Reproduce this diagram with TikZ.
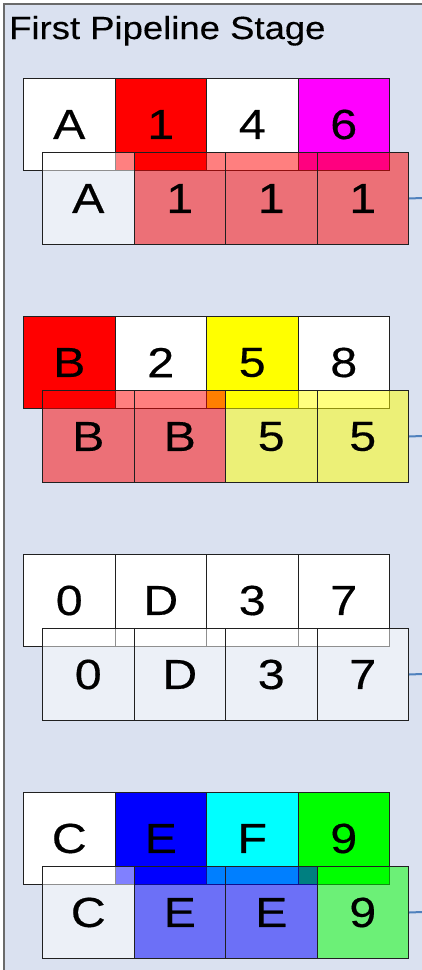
\documentclass[tikz,border=0pt]{standalone}
\usepackage{fontspec}
\setmainfont{Liberation Sans}
\newfontfamily\cellfont[FakeStretch=1.15,FakeBold=0.4]{Liberation Sans}
\newfontfamily\titlefont[FakeStretch=1.14,FakeBold=0.3]{Liberation Sans}
\definecolor{panelbg}{HTML}{DAE1F0}
\definecolor{panelline}{HTML}{6A6A6A}
\definecolor{linkblue}{HTML}{4F81BD}
\definecolor{cellline}{HTML}{202020}
\definecolor{cwhite}{HTML}{FFFFFF}
\definecolor{cred}{HTML}{FF0000}
\definecolor{cmag}{HTML}{FF00FF}
\definecolor{cyel}{HTML}{FFFF00}
\definecolor{cblue}{HTML}{0000FF}
\definecolor{ccyan}{HTML}{00FFFF}
\definecolor{cgreen}{HTML}{00FF00}
\begin{document}
\begin{tikzpicture}[x=1pt,y=-1pt,
  cell/.style={draw=cellline, line width=1pt, minimum width=91.5pt, minimum height=92pt,
    inner sep=0pt, anchor=north west, font=\cellfont\fontsize{42}{42}\selectfont},
  over/.style={cell, fill opacity=0.5, text opacity=1, draw opacity=1},
  link/.style={draw=linkblue, line width=2pt}]
\fill[white] (0,0) rectangle (422,970);
\useasboundingbox (0,0) rectangle (422,970);
\draw[panelline, line width=2pt, fill=panelbg] (4,4) rectangle (440,990);
\node[anchor=base west, inner sep=0pt, font=\titlefont\fontsize{32}{32}\selectfont] (title) at (9,39) {First Pipeline Stage};
% row 1
\foreach \t/\c [count=\i] in {A/cwhite,1/cred,4/cwhite,6/cmag}
  \node[cell, fill=\c] (r1t\i) at ({23+91.5*(\i-1)},78) {\t};
\foreach \t/\c [count=\i] in {A/cwhite,1/cred,1/cred,1/cred}
  \node[over, fill=\c] (r1b\i) at ({42+91.5*(\i-1)},152) {\t};
\coordinate (e1) at (422,198);
\draw[link] (r1b4.east) -- (e1);
% row 2
\foreach \t/\c [count=\i] in {B/cred,2/cwhite,5/cyel,8/cwhite}
  \node[cell, fill=\c] (r2t\i) at ({23+91.5*(\i-1)},316) {\t};
\foreach \t/\c [count=\i] in {B/cred,B/cred,5/cyel,5/cyel}
  \node[over, fill=\c] (r2b\i) at ({42+91.5*(\i-1)},390) {\t};
\coordinate (e2) at (422,436);
\draw[link] (r2b4.east) -- (e2);
% row 3
\foreach \t/\c [count=\i] in {0/cwhite,D/cwhite,3/cwhite,7/cwhite}
  \node[cell, fill=\c] (r3t\i) at ({23+91.5*(\i-1)},554) {\t};
\foreach \t/\c [count=\i] in {0/cwhite,D/cwhite,3/cwhite,7/cwhite}
  \node[over, fill=\c] (r3b\i) at ({42+91.5*(\i-1)},628) {\t};
\coordinate (e3) at (422,674);
\draw[link] (r3b4.east) -- (e3);
% row 4
\foreach \t/\c [count=\i] in {C/cwhite,E/cblue,F/ccyan,9/cgreen}
  \node[cell, fill=\c] (r4t\i) at ({23+91.5*(\i-1)},792) {\t};
\foreach \t/\c [count=\i] in {C/cwhite,E/cblue,E/cblue,9/cgreen}
  \node[over, fill=\c] (r4b\i) at ({42+91.5*(\i-1)},866) {\t};
\coordinate (e4) at (422,912);
\draw[link] (r4b4.east) -- (e4);
\end{tikzpicture}
\end{document}
